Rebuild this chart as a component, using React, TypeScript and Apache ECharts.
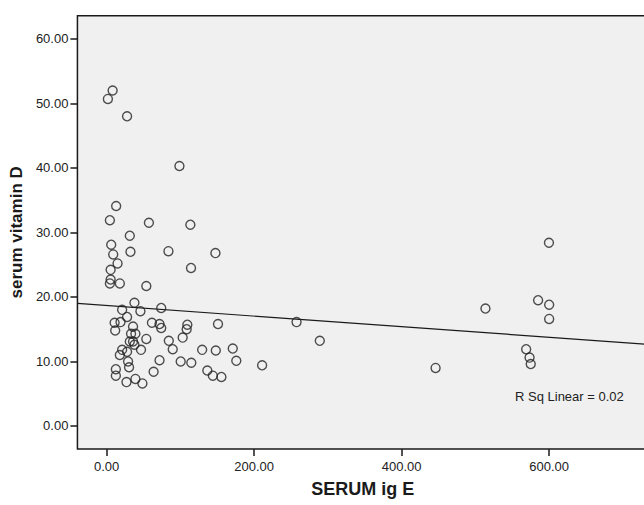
import React, { useEffect, useRef } from "react";
import * as echarts from "echarts";

// SERUM ig E (x) and serum vitamin D (y)
const serumIgE = [
  8.1, 1.7, 27.7, 98.7, 12.9, 4.4, 57.3, 113.5, 31.4, 6.2, 32.3, 83.8, 147.5, 8.9, 14.8, 5.4,
  114.4, 5.4, 4.4, 17.9, 53.8, 37.7, 21.0, 45.8, 74.0, 27.7, 10.8, 18.8, 11.6, 35.8, 61.4, 71.7,
  74.0, 109.4, 108.5, 33.1, 39.0, 35.8, 31.4, 53.8, 103.1, 37.7, 84.3, 89.6, 21.0, 17.9, 27.7,
  46.6, 29.1, 30.4, 71.7, 100.4, 114.8, 129.5, 136.5, 144.0, 12.5, 12.5, 63.7, 26.9, 39.0, 48.5,
  151.0, 257.5, 289.0, 148.0, 171.0, 175.8, 210.8, 155.6, 446.0, 599.7, 585.0, 600.0, 600.0,
  513.6, 568.8, 573.4, 575.0,
];
const serumVitD = [
  52.0, 50.7, 48.0, 40.3, 34.1, 31.9, 31.5, 31.2, 29.5, 28.1, 27.0, 27.1, 26.8, 26.6, 25.2, 24.2,
  24.5, 22.7, 22.1, 22.1, 21.7, 19.1, 18.0, 17.8, 18.3, 16.9, 16.0, 16.1, 14.8, 15.4, 16.0, 15.8,
  15.2, 15.7, 15.0, 14.3, 14.3, 13.1, 13.1, 13.5, 13.7, 12.6, 13.2, 11.9, 11.8, 11.0, 11.5,
  11.8, 10.0, 9.1, 10.2, 10.0, 9.8, 11.8, 8.6, 7.8, 8.8, 7.8, 8.4, 6.8, 7.3, 6.6,
  15.8, 16.1, 13.2, 11.7, 12.0, 10.1, 9.4, 7.6, 9.0, 28.4, 19.5, 18.8, 16.6,
  18.2, 11.9, 10.6, 9.6,
];

// fit line (linear) and its label
const fitIntercept = 18.67;
const fitSlope = -0.0082;
const rSqLabel = "R Sq Linear = 0.02";

const xTicks = [0, 200, 400, 600];
const yTicks = [0, 10, 20, 30, 40, 50, 60];
const xMin = -39.6;
const xMax = 734;
const yMin = -3.57;
const yMax = 63.6;

export default function App() {
  const ref = useRef<HTMLDivElement>(null);
  useEffect(() => {
    if (!ref.current) return;
    const chart = echarts.init(ref.current, undefined, { renderer: "svg" });
    const font = "'Liberation Sans', Arial, sans-serif";
    const points = serumIgE.map((x, i) => [x, serumVitD[i]]);
    const fit = [
      [xMin, fitIntercept + fitSlope * xMin],
      [xMax, fitIntercept + fitSlope * xMax],
    ];
    chart.setOption({
      animation: false,
      backgroundColor: "#ffffff",
      grid: {
        left: 73.3,
        top: 15.7,
        right: 2,
        bottom: 56,
        show: true,
        backgroundColor: "#f0f0f0",
        borderColor: "#1a1a1a",
        borderWidth: 1.5,
      },
      xAxis: {
        type: "value",
        min: xMin,
        max: xMax,
        name: "SERUM ig E",
        nameLocation: "middle",
        nameGap: 31,
        nameTextStyle: { fontFamily: font, fontSize: 18, fontWeight: "bold", color: "#1a1a1a" },
        axisLine: { show: false, onZero: false },
        splitLine: { show: false },
        axisTick: {
          show: true,
          length: 7,
          customValues: xTicks,
          lineStyle: { color: "#1a1a1a", width: 1.5 },
        },
        axisLabel: {
          customValues: xTicks,
          margin: 11,
          fontFamily: font,
          fontSize: 13,
          color: "#222",
          formatter: (v: number) => v.toFixed(2),
        },
      },
      yAxis: {
        type: "value",
        min: yMin,
        max: yMax,
        name: "serum vitamin D",
        nameLocation: "middle",
        nameRotate: 90,
        nameGap: 47,
        nameTextStyle: { fontFamily: font, fontSize: 17, fontWeight: "bold", color: "#1a1a1a" },
        axisLine: { show: false, onZero: false },
        splitLine: { show: false },
        axisTick: {
          show: true,
          length: 7,
          customValues: yTicks,
          lineStyle: { color: "#1a1a1a", width: 1.5 },
        },
        axisLabel: {
          customValues: yTicks,
          margin: 9,
          fontFamily: font,
          fontSize: 13,
          color: "#222",
          formatter: (v: number) => v.toFixed(2),
        },
      },
      series: [
        {
          type: "scatter",
          data: points,
          symbol: "circle",
          symbolSize: 9,
          itemStyle: { color: "rgba(0,0,0,0)", borderColor: "#222", borderWidth: 1.4 },
          z: 3,
        },
        {
          type: "line",
          data: fit,
          symbol: "none",
          lineStyle: { color: "#1a1a1a", width: 1.2 },
          z: 2,
        },
      ],
      graphic: [
        {
          type: "text",
          left: 515,
          top: 390,
          style: { text: rSqLabel, fontFamily: font, fontSize: 13, fill: "#222" },
        },
      ],
    });
    return () => chart.dispose();
  }, []);
  return (
    <div
      ref={ref}
      style={{ position: "fixed", left: 0, top: 0, width: 650, height: 505 }}
    />
  );
}
